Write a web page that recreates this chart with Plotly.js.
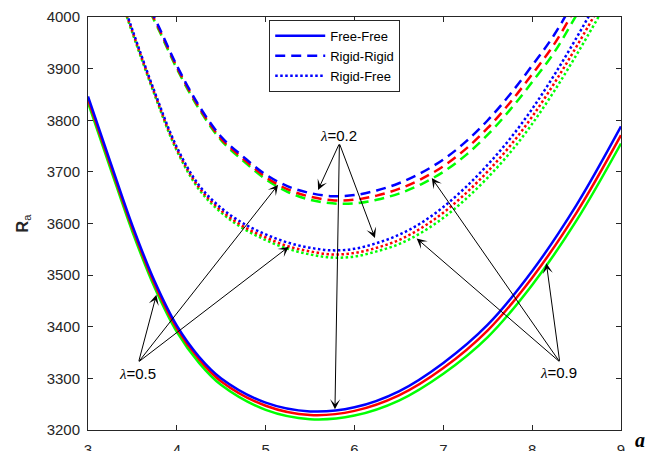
<!DOCTYPE html>
<html>
<head>
<meta charset="utf-8">
<script src="https://cdn.plot.ly/plotly-3.0.1.min.js"></script>
<style>html,body{margin:0;padding:0;background:#fff;}#chart{width:665px;height:451px;}</style>
</head>
<body>
<div id="chart"></div>
<script>
// Free-Free (solid)
var aSolid = [3, 3.25, 3.5, 3.75, 4, 4.25, 4.5, 5, 5.5, 6, 6.5, 7, 7.5, 8, 8.5, 9];
var ffBlue  = [3846, 3720, 3596, 3488, 3402, 3342, 3300, 3253, 3236, 3244, 3275, 3330, 3404, 3508, 3636, 3788];
var ffRed   = [3841, 3715, 3591, 3483, 3397, 3337, 3294, 3247, 3229, 3237, 3267, 3320, 3393, 3495, 3621, 3771];
var ffGreen = [3834, 3708, 3584, 3476, 3390, 3330, 3287, 3239, 3221, 3228, 3257, 3309, 3380, 3481, 3606, 3755];

// Rigid-Rigid (dashed)
var aDash = [3.7, 3.8, 4.0, 4.25, 4.5, 4.75, 5.0, 5.25, 5.5, 5.75, 6.0, 6.25, 6.5, 6.75, 7.0, 7.25, 7.5, 7.75, 8.0, 8.25, 8.5, 8.75];
var rrBlue  = [4015, 3980, 3906, 3828, 3768, 3729, 3695, 3672, 3659, 3653, 3655, 3664, 3678, 3698, 3724, 3758, 3800, 3850, 3906, 3966, 4040, 4115];
var rrRed   = [4012, 3977, 3903, 3825, 3764, 3725, 3690, 3666, 3652, 3645, 3646, 3654, 3667, 3686, 3711, 3744, 3785, 3834, 3889, 3948, 4021, 4095];
var rrGreen = [4009, 3974, 3900, 3822, 3761, 3721, 3686, 3661, 3646, 3639, 3639, 3646, 3658, 3676, 3700, 3732, 3772, 3820, 3874, 3932, 4004, 4077];

// Rigid-Free (dotted)
var aDot = [3.4, 3.5, 3.75, 4.0, 4.25, 4.5, 4.75, 5.0, 5.25, 5.5, 5.75, 6.0, 6.25, 6.5, 6.75, 7.0, 7.25, 7.5, 7.75, 8.0, 8.25, 8.5, 8.75, 9.0];
var rfBlue  = [4025, 3975, 3855, 3748, 3674, 3630, 3600, 3579, 3563, 3553, 3548, 3551, 3562, 3578, 3601, 3632, 3670, 3714, 3764, 3822, 3888, 3960, 4036, 4112];
var rfRed   = [4022, 3972, 3852, 3744, 3670, 3625, 3594, 3573, 3556, 3546, 3540, 3543, 3553, 3568, 3591, 3621, 3658, 3701, 3750, 3807, 3872, 3943, 4018, 4094];
var rfGreen = [4019, 3969, 3849, 3741, 3666, 3621, 3590, 3568, 3551, 3540, 3534, 3536, 3546, 3560, 3582, 3611, 3647, 3689, 3737, 3793, 3857, 3927, 4001, 4077];

var xTicks = [3, 4, 5, 6, 7, 8, 9];
var yTicks = [3200, 3300, 3400, 3500, 3600, 3700, 3800, 3900, 4000];
var legendNames = ['Free-Free', 'Rigid-Rigid', 'Rigid-Free'];
var lambdaLabels = ['λ=0.2', 'λ=0.5', 'λ=0.9'];

var BLUE = '#0000ff', RED = '#ff0000', GREEN = '#00ff00';
var LW = 2.5;

function tr(x, y, color, dash, name, show) {
  return {x: x, y: y, type: 'scatter', mode: 'lines', name: name, showlegend: show,
          line: {color: color, width: LW, dash: dash, shape: 'spline', smoothing: 1}};
}
var DASH = '10px,6px', DOT = '2.5px,2.5px';
var data = [
  tr(aSolid, ffGreen, GREEN, 'solid', legendNames[0], false),
  tr(aSolid, ffRed, RED, 'solid', legendNames[0], false),
  tr(aSolid, ffBlue, BLUE, 'solid', legendNames[0], true),
  tr(aDash, rrGreen, GREEN, DASH, legendNames[1], false),
  tr(aDash, rrRed, RED, DASH, legendNames[1], false),
  tr(aDash, rrBlue, BLUE, DASH, legendNames[1], true),
  tr(aDot, rfGreen, GREEN, DOT, legendNames[2], false),
  tr(aDot, rfRed, RED, DOT, legendNames[2], false),
  tr(aDot, rfBlue, BLUE, DOT, legendNames[2], true)
];
data[2].legendrank = 1; data[5].legendrank = 2; data[8].legendrank = 3;

function arrow(x, y, ax, ay) {
  return {x: x, y: y, ax: ax, ay: ay, xref: 'x', yref: 'y', axref: 'x', ayref: 'y',
          text: ' ', font: {size: 1}, borderpad: 0, showarrow: true, arrowhead: 3, arrowsize: 1.7,
          arrowwidth: 1, arrowcolor: '#000', standoff: 0, startstandoff: 0};
}
function label(x, y, txt) {
  var parts = txt.split('=');
  return {x: x, y: y, xref: 'x', yref: 'y', showarrow: false,
          text: '<span style="font-family:\'Liberation Serif\'"><i>' + parts[0] + '</i></span>=' + parts[1],
          font: {family: 'Liberation Sans, Arial, sans-serif', size: 15, color: '#000'}};
}
var TEXT = '#262626';
var annotations = [
  label(5.82, 3770, lambdaLabels[0]),
  arrow(5.59, 3665, 5.83, 3755),
  arrow(5.78, 3240, 5.83, 3755),
  arrow(6.23, 3572, 5.83, 3755),
  label(3.56, 3310, lambdaLabels[1]),
  arrow(3.77, 3462, 3.57, 3332),
  arrow(5.14, 3675, 3.57, 3332),
  arrow(5.26, 3555, 3.57, 3332),
  label(8.30, 3312, lambdaLabels[2]),
  arrow(8.16, 3523, 8.31, 3332),
  arrow(6.70, 3571, 8.31, 3332),
  arrow(6.87, 3688, 8.31, 3332),
  {xref: 'paper', yref: 'paper', x: 1.035, y: -0.025, xanchor: 'center', yanchor: 'middle', showarrow: false,
   text: '<b><i>a</i></b>', font: {family: 'Liberation Serif, Times New Roman, serif', size: 20, color: '#000'}}
];

var axisCommon = {
  showline: true, linecolor: TEXT, linewidth: 1, mirror: 'ticks',
  ticks: 'inside', ticklen: 5, tickwidth: 1, tickcolor: TEXT,
  showgrid: false, zeroline: false,
  tickfont: {family: 'Liberation Sans, Arial, sans-serif', size: 15, color: TEXT}
};
var layout = {
  width: 665, height: 451,
  margin: {l: 88, r: 44, t: 17, b: 21, pad: 0},
  paper_bgcolor: '#fff', plot_bgcolor: '#fff',
  showlegend: true,
  legend: {x: 0.34, y: 0.993, xanchor: 'left', yanchor: 'top', bgcolor: '#fff',
           bordercolor: TEXT, borderwidth: 1, itemwidth: 50,
           font: {family: 'Liberation Sans, Arial, sans-serif', size: 13, color: '#000'},
           traceorder: 'normal'},
  xaxis: Object.assign({}, axisCommon, {range: [3, 9], tickvals: xTicks, ticktext: xTicks.map(String), ticklabelstandoff: 6}),
  yaxis: Object.assign({}, axisCommon, {range: [3200, 4000], tickvals: yTicks, ticktext: yTicks.map(String), ticklabelstandoff: 4,
          title: {text: '<b>R</b><sub>a</sub>', font: {family: 'Liberation Sans, Arial, sans-serif', size: 16, color: TEXT}, standoff: 14}}),
  annotations: annotations
};
Plotly.newPlot('chart', data, layout, {displayModeBar: false, staticPlot: true});
</script>
</body>
</html>
